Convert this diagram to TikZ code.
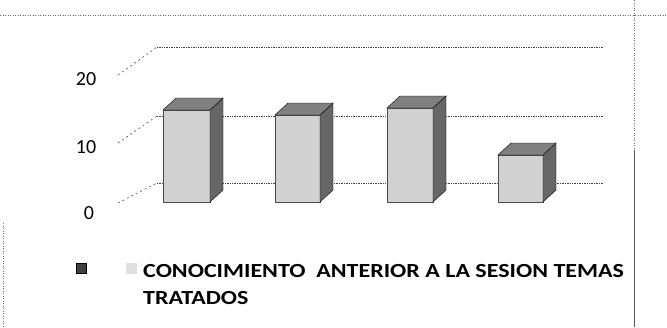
\documentclass[tikz,border=0pt]{standalone}
\usepackage{fontspec}
\setmainfont{Carlito}
\usetikzlibrary{calc}
\begin{document}
\begin{tikzpicture}[x=1pt,y=-1pt,
  grid/.style={black!75,line width=0.7pt,densely dotted},
  diag/.style={black!70,line width=0.6pt,dash pattern=on 2pt off 3pt},
  frame/.style={black!60,line width=0.5pt,dotted},
  axlabel/.style={font=\fontsize{20}{20}\selectfont,inner sep=0pt},
  legtext/.style={anchor=base west,inner sep=0pt,xscale=1.2,font=\bfseries\fontsize{20}{20}\selectfont},
  front/.style={fill=black!18,draw=black!70,line width=0.4pt},
  side/.style={fill=black!60,draw=black,line width=0.4pt},
  topf/.style={fill=black!50,draw=black,line width=0.4pt}]
\useasboundingbox (0,0) rectangle (667,327);
% page frame lines (scan)
\coordinate (tl) at (0,15); \coordinate (tr) at (667,15);
\draw[frame] (tl) -- (tr);
\coordinate (r0) at (634,0); \coordinate (r1) at (634,150); \coordinate (r2) at (634,327);
\draw[frame,line width=0.8pt] (r0) -- (r1);
\draw[black!65,line width=1pt] (r1) -- (r2);
\coordinate (l0) at (3,223); \coordinate (l1) at (3,327);
\draw[frame,line width=0.7pt] (l0) -- (l1);
% back wall grid
\foreach \n/\y/\yl in {a/47/75,b/116/143,c/183/203}{
  \coordinate (g\n0) at (118,\yl);
  \coordinate (g\n1) at (157,\y);
  \coordinate (g\n2) at (603,\y);
  \draw[diag] (g\n0) -- (g\n1);
  \draw[grid] (g\n1) -- (g\n2);
}
\node[axlabel] (l20) at (86,79) {20};
\node[axlabel] (l10) at (86,147) {10};
\node[axlabel] (l0n) at (89,213) {0};
% bars: front-left x, front-right x, top y
\foreach \n/\xl/\xr/\yt in {1/163/210/110,2/275/320/115,3/387/433/108,4/498/543/155}{
  \coordinate (b\n fl) at (\xl,202);
  \coordinate (b\n fr) at (\xr,202);
  \coordinate (b\n tl) at (\xl,\yt);
  \coordinate (b\n tr) at (\xr,\yt);
  \coordinate (b\n bl) at ($(b\n tl)+(13,-12)$);
  \coordinate (b\n br) at ($(b\n tr)+(13,-12)$);
  \coordinate (b\n dr) at ($(b\n fr)+(13,-12)$);
  \draw[front] (b\n fl) rectangle (b\n tr);
  \draw[side] (b\n fr) -- (b\n tr) -- (b\n br) -- (b\n dr) -- cycle;
  \draw[topf] (b\n tl) -- (b\n tr) -- (b\n br) -- (b\n bl) -- cycle;
}
% legend
\node[draw=black,fill=black!75,minimum width=10pt,minimum height=10pt,inner sep=0pt] (k1) at (81.5,268) {};
\node[fill=black!12,minimum width=11pt,minimum height=11pt,inner sep=0pt] (k2) at (131,268) {};
\node[legtext] (leg1) at (143,277) {CONOCIMIENTO\ \ ANTERIOR A LA SESION TEMAS};
\node[legtext] (leg2) at (143,304) {TRATADOS};
\end{tikzpicture}
\end{document}
